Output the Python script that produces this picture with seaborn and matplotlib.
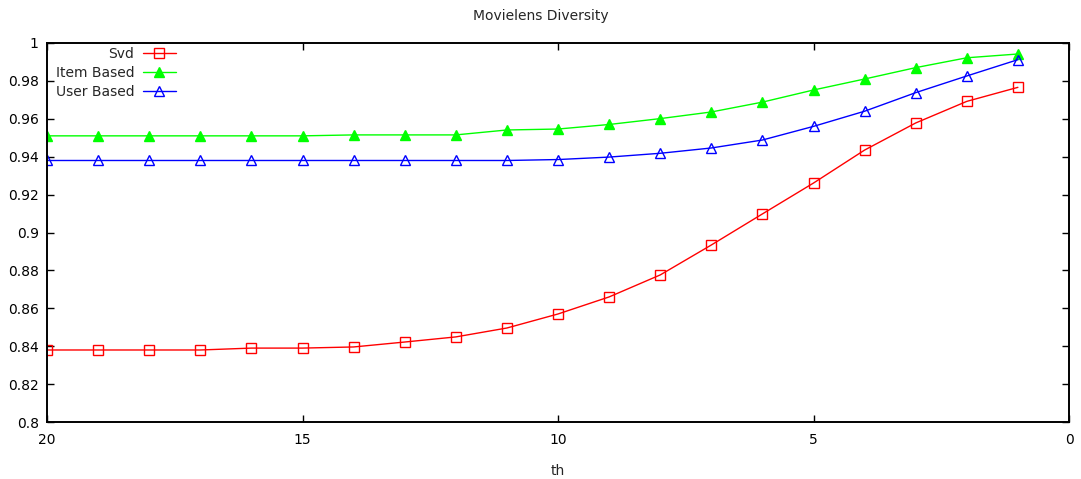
import matplotlib
matplotlib.use("Agg")
import matplotlib.pyplot as plt
import seaborn as sns
import pandas as pd

th = [20, 19, 18, 17, 16, 15, 14, 13, 12, 11, 10, 9, 8, 7, 6, 5, 4, 3, 2, 1]
svd = [0.838, 0.838, 0.838, 0.838, 0.839, 0.839, 0.8396, 0.8422, 0.8449, 0.8496,
       0.857, 0.866, 0.8776, 0.8934, 0.9098, 0.9261, 0.9435, 0.9578, 0.9692, 0.9766]
item_based = [0.951, 0.951, 0.951, 0.951, 0.951, 0.951, 0.9515, 0.9515, 0.9515, 0.9541,
              0.9546, 0.957, 0.9601, 0.9636, 0.9688, 0.9752, 0.9810, 0.9870, 0.9922, 0.9942]
user_based = [0.938, 0.938, 0.938, 0.938, 0.938, 0.938, 0.938, 0.938, 0.938, 0.938,
              0.9385, 0.9398, 0.9418, 0.9446, 0.9488, 0.9560, 0.9640, 0.9738, 0.9826, 0.9912]

series_names = ["Svd", "Item Based", "User Based"]
x_ticks = [20, 15, 10, 5, 0]
y_ticks = [0.8, 0.82, 0.84, 0.86, 0.88, 0.9, 0.92, 0.94, 0.96, 0.98, 1.0]
y_tick_labels = ["0.8", "0.82", "0.84", "0.86", "0.88", "0.9", "0.92", "0.94", "0.96", "0.98", "1"]

df = pd.DataFrame({
    "th": th * 3,
    "value": svd + item_based + user_based,
    "series": sum([[n] * len(th) for n in series_names], []),
})

sns.set_theme(style="ticks")
plt.rcParams["font.family"] = ["DejaVu Sans"]
plt.rcParams["font.size"] = 10

fig = plt.figure(figsize=(10.81, 4.79), dpi=100)
ax = fig.add_axes([47 / 1081, 1 - 422 / 479, (1069 - 47) / 1081, (422 - 43) / 479])

styles = {
    "Svd": dict(color="#ff0000", marker="s", markerfacecolor="none", markersize=7.0),
    "Item Based": dict(color="#00ff00", marker="^", markerfacecolor="#00ff00", markersize=7.5),
    "User Based": dict(color="#0000ff", marker="^", markerfacecolor="none", markersize=7.5),
}
for name in series_names:
    sub = df[df["series"] == name]
    st = styles[name]
    sns.lineplot(data=sub, x="th", y="value", ax=ax, label=name, linewidth=1.0,
                 color=st["color"], marker=st["marker"], markerfacecolor=st["markerfacecolor"],
                 markeredgecolor=st["color"], markeredgewidth=1.0, markersize=st["markersize"])

ax.set_xlim(20, 0)
ax.set_ylim(0.8, 1.0)
ax.set_xticks(x_ticks)
ax.set_xticklabels([str(t) for t in x_ticks])
ax.set_yticks(y_ticks)
ax.set_yticklabels(y_tick_labels)
ax.tick_params(direction="in", length=5, width=1, top=True, right=True,
               labelsize=10, colors="black", pad=6)
ax.tick_params(axis="x", pad=8)
for sp in ax.spines.values():
    sp.set_visible(True)
    sp.set_linewidth(1.4)
    sp.set_color("black")

ax.set_xlabel("th", fontsize=10, labelpad=12)
ax.set_ylabel("")
fig.text(541 / 1081, 1 - 16 / 479, "Movielens Diversity", ha="center", va="center", fontsize=10)

leg = ax.legend(loc="upper left", bbox_to_anchor=(0.003, 1.004), frameon=False, markerfirst=False,
                handlelength=2.4, handletextpad=0.6, labelspacing=0.35, borderaxespad=0.0,
                fontsize=10, numpoints=1)

fig.savefig("out.png", dpi=100)
